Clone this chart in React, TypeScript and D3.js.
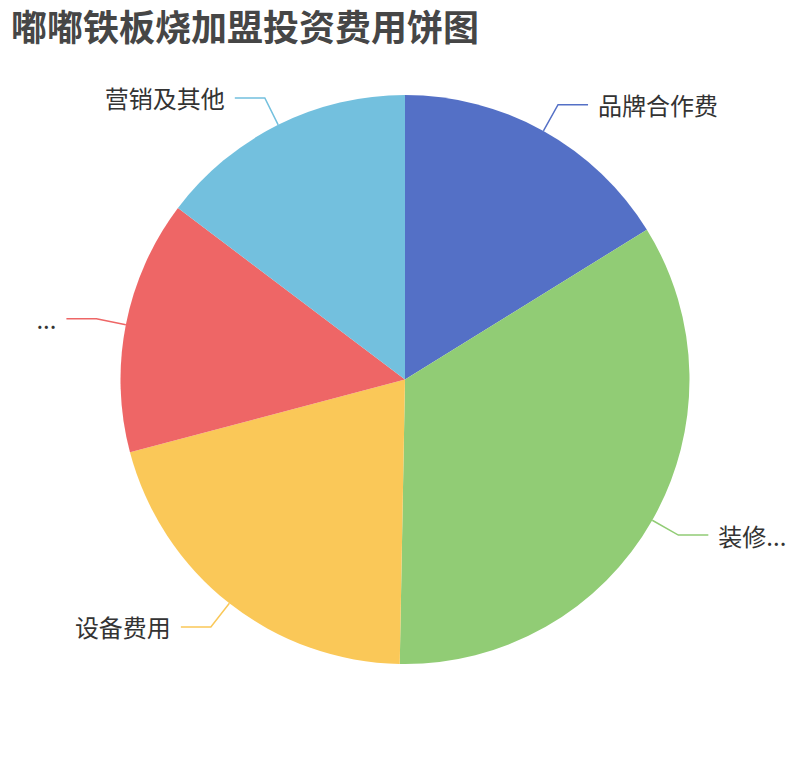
import { arc, pie, PieArcDatum } from 'd3';

// 费用构成（万元）
const categories = ['品牌合作费', '装修费用', '设备费用', '店面租金及首批原材料', '营销及其他'];
const values = [5.5, 11.6, 7, 4.9, 5];
// labels as shown (long names get truncated)
const displayLabels = ['品牌合作费', '装修...', '设备费用', '...', '营销及其他'];
const colors = ['#5470c6', '#91cc75', '#fac858', '#ee6666', '#73c0de'];

const title = '嘟嘟铁板烧加盟投资费用饼图';

interface Slice {
  name: string;
  label: string;
  value: number;
  color: string;
}

function App(): JSX.Element {
  const width = 810;
  const height = 760;
  const cx = 405;
  const cy = 379.5;
  const radius = 284.5;
  const len1 = 30;
  const len2 = 30;
  const gap = 10;

  const data: Slice[] = categories.map((name, i) => ({
    name,
    label: displayLabels[i],
    value: values[i],
    color: colors[i]
  }));

  const pieGen = pie<Slice>()
    .sort(null)
    .value((d) => d.value);
  const arcs = pieGen(data);

  const arcGen = arc<PieArcDatum<Slice>>().innerRadius(0).outerRadius(radius);

  const font = '"Noto Sans CJK SC", "Noto Sans", sans-serif';

  return (
    <svg
      width={width}
      height={height}
      style={{ position: 'absolute', left: 0, top: 0, background: '#fff' }}
    >
      <text
        x={11}
        y={25}
        fontFamily={font}
        fontWeight="bold"
        fontSize={36}
        fill="#464646"
        dominantBaseline="central"
      >
        {title}
      </text>
      <g transform={`translate(${cx},${cy})`}>
        {arcs.map((a) => (
          <path key={a.data.name} d={arcGen(a) || ''} fill={a.data.color} />
        ))}
        {arcs.map((a) => {
          const mid = (a.startAngle + a.endAngle) / 2;
          const sx = Math.sin(mid);
          const sy = -Math.cos(mid);
          const x0 = sx * radius;
          const y0 = sy * radius;
          const x1 = sx * (radius + len1);
          const y1 = sy * (radius + len1);
          const right = sx >= 0;
          const x2 = x1 + (right ? len2 : -len2);
          return (
            <g key={`l-${a.data.name}`}>
              <polyline
                points={`${x0},${y0} ${x1},${y1} ${x2},${y1}`}
                fill="none"
                stroke={a.data.color}
                strokeWidth={1.5}
              />
              <text
                x={x2 + (right ? gap : -gap)}
                y={y1}
                textAnchor={right ? 'start' : 'end'}
                dominantBaseline="central"
                fontFamily={font}
                fontSize={24}
                fill="#333"
              >
                {a.data.label}
              </text>
            </g>
          );
        })}
      </g>
    </svg>
  );
}

export default App;
